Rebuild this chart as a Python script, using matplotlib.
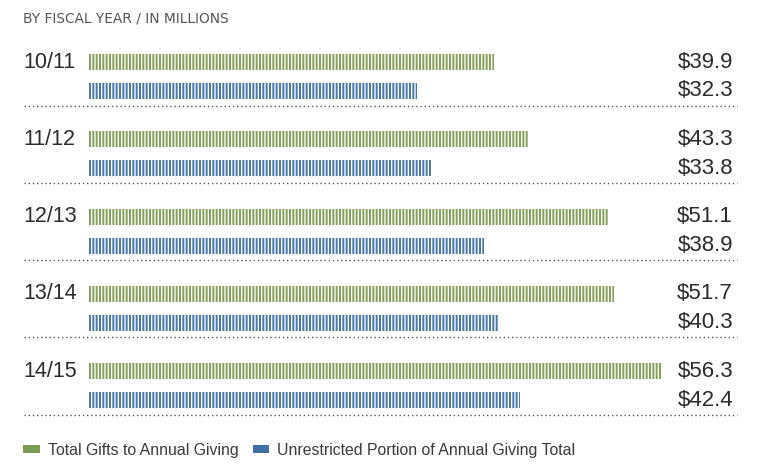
import matplotlib.pyplot as plt
from matplotlib.patches import Patch

plt.rcParams['font.family'] = ['Liberation Sans', 'DejaVu Sans']
plt.rcParams['hatch.linewidth'] = 0.95

years = ['10/11', '11/12', '12/13', '13/14', '14/15']
total_gifts = [39.9, 43.3, 51.1, 51.7, 56.3]
unrestricted = [32.3, 33.8, 38.9, 40.3, 42.4]

green = '#87a15c'
blue = '#4b79ae'
text_color = '#2b2b2b'

W, H = 762, 467
px_per_unit = 10.18      # horizontal pixels per $1M
row_px = 77.3            # vertical pixels per fiscal year group
x0_px = 88               # where the bars start
y0_px = 76.5             # centre of the first group

fig = plt.figure(figsize=(W / 100, H / 100), dpi=100)
ax = fig.add_axes([0, 0, 1, 1])
ax.set_xlim(-x0_px / px_per_unit, (W - x0_px) / px_per_unit)
ax.set_ylim((H - y0_px) / row_px, -y0_px / row_px)
ax.axis('off')

off = 14.5 / row_px
bar_h = 16 / row_px
ypos = list(range(len(years)))

ax.barh([y - off for y in ypos], total_gifts, height=bar_h, color=green,
        edgecolor='white', linewidth=0, hatch='|||||')
ax.barh([y + off for y in ypos], unrestricted, height=bar_h, color=blue,
        edgecolor='white', linewidth=0, hatch='|||||')

label_x = (23 - x0_px) / px_per_unit
value_x = (733 - x0_px) / px_per_unit
line_l = (24 - x0_px) / px_per_unit
line_r = (737 - x0_px) / px_per_unit

for y, yr, g, u in zip(ypos, years, total_gifts, unrestricted):
    ax.text(label_x, y - off, yr, ha='left', va='center', fontsize=15.5,
            color=text_color)
    ax.text(value_x, y - off, f'${g:.1f}', ha='right', va='center',
            fontsize=16, color=text_color)
    ax.text(value_x, y + off, f'${u:.1f}', ha='right', va='center',
            fontsize=16, color=text_color)
    ax.plot([line_l, line_r], [y + 29 / row_px] * 2, color='#555555',
            linewidth=1, linestyle=(0, (1, 2)))

fig.text(23 / W, 1 - 18 / H, 'BY FISCAL YEAR / IN MILLIONS', ha='left',
         va='center', fontsize=9.9, color='#555555', family='DejaVu Sans')

handles = [Patch(facecolor='#7b9a52', label='Total Gifts to Annual Giving'),
           Patch(facecolor='#3f6fa6', label='Unrestricted Portion of Annual Giving Total')]
fig.legend(handles=handles, loc='center left', bbox_to_anchor=(23 / W, 1 - 450.5 / H),
           ncol=2, frameon=False, fontsize=11.4, handlelength=1.05, handleheight=0.42,
           handletextpad=0.5, columnspacing=0.9, labelcolor='#3a3a3a',
           borderaxespad=0, borderpad=0)

fig.savefig('out.png', dpi=100)
